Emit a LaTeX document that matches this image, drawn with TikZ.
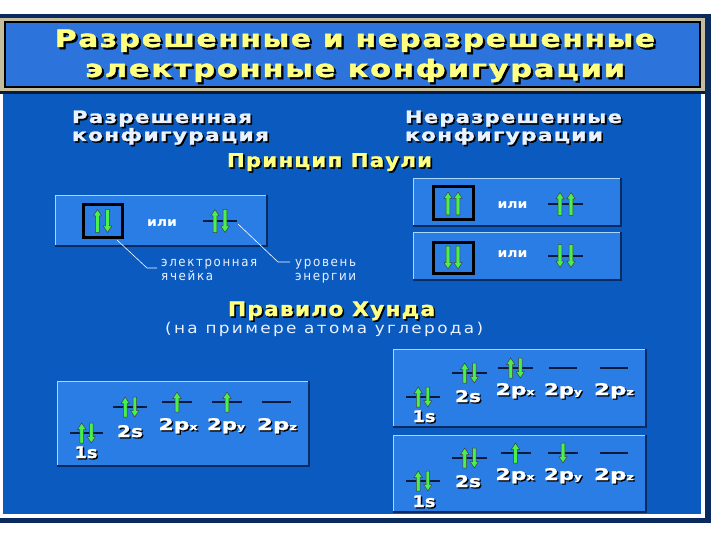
\documentclass[tikz,border=0pt]{standalone}
\usepackage{fontspec}
\usepackage{graphicx}
\setmainfont{DejaVu Sans}
\newfontfamily\hdfont{DejaVu Sans}[LetterSpace=6, FakeBold=1.6]
\newfontfamily\lbfont{DejaVu Sans}[FakeBold=1.2]
\newfontfamily\thinfont{DejaVu Sans}[LetterSpace=14]
\definecolor{bgmain}{HTML}{0A5AC0}
\definecolor{boxfill}{HTML}{2A7DE4}
\definecolor{titlefill}{HTML}{2C74DC}
\definecolor{khaki}{HTML}{C4BE9C}
\definecolor{navy}{HTML}{0B2A5E}
\definecolor{dkline}{HTML}{0A1A3A}
\definecolor{ylw}{HTML}{FFFF80}
\definecolor{lightbev}{HTML}{A8D8FF}
\definecolor{grn}{HTML}{4CF04C}
\definecolor{pale}{HTML}{EAF2FF}
% text with a black drop shadow
\newcommand\shd[3][1.6pt]{\leavevmode\rlap{\kern#1\raisebox{-#1}{\color{black}#3}}{\color{#2}#3}}
\newcommand\fitw[2]{\resizebox{#1}{\height}{#2}}
\newcommand\uparr[3]{\filldraw[arr] ({#1-1.8},{#2+#3/2}) -- ({#1-1.8},{#2-#3/2+6.5}) -- ({#1-4.2},{#2-#3/2+6.5}) -- ({#1},{#2-#3/2}) -- ({#1+4.2},{#2-#3/2+6.5}) -- ({#1+1.8},{#2-#3/2+6.5}) -- ({#1+1.8},{#2+#3/2}) -- cycle;}
\newcommand\dnarr[3]{\filldraw[arr] ({#1-1.8},{#2-#3/2}) -- ({#1-1.8},{#2+#3/2-6.5}) -- ({#1-4.2},{#2+#3/2-6.5}) -- ({#1},{#2+#3/2}) -- ({#1+4.2},{#2+#3/2-6.5}) -- ({#1+1.8},{#2+#3/2-6.5}) -- ({#1+1.8},{#2-#3/2}) -- cycle;}
\newcommand\lvl[3]{\draw[lvlline] ({#1-#3/2},{#2}) -- ({#1+#3/2},{#2});}
\newcommand\lvlud[3]{\lvl{#1}{#2}{#3}\uparr{#1-4.8}{#2}{20}\dnarr{#1+4.8}{#2}{20}}
\newcommand\lvlu[3]{\lvl{#1}{#2}{#3}\uparr{#1}{#2}{20}}
\newcommand\lvld[3]{\lvl{#1}{#2}{#3}\dnarr{#1}{#2}{20}}
\newcommand\bevbox[4]{%
 \fill[boxfill] (#1,#2) rectangle (#3,#4);
 \draw[navy, line width=2.5pt] ({#1},{#4-1}) -- ({#3-1},{#4-1}) -- ({#3-1},{#2});
 \draw[lightbev, line width=1pt] ({#1+0.5},{#4-2}) -- ({#1+0.5},{#2+0.5}) -- ({#3-2},{#2+0.5});}
\newcommand\lab[5]{\node[lbl] (#1) at (#2,#3) {\shd[1.3pt]{white}{\fitw{#4pt}{#5}}};}
\newcommand\ili[3]{\node[ilis] (#1) at (#2,#3) {\fitw{30pt}{или}};}
\begin{document}
\begin{tikzpicture}[x=1pt,y=-1pt,
 txt/.style={inner sep=0pt, outer sep=0pt, anchor=base west},
 lvlline/.style={draw=dkline, line width=2.8pt},
 arr/.style={fill=grn, draw=black!75, line width=0.5pt},
 ann/.style={draw=white, line width=0.6pt},
 cell/.style={draw=black, line width=3pt, inner sep=0pt, fill=boxfill},
 lbl/.style={inner sep=0pt, anchor=base, font=\lbfont\fontsize{16}{16}\selectfont\bfseries},
 ilis/.style={inner sep=0pt, anchor=base, text=white, font=\fontsize{12.5}{12.5}\selectfont\bfseries},
 thin/.style={inner sep=0pt, anchor=base west, text=pale, font=\thinfont\fontsize{13}{13}\selectfont}
]
\useasboundingbox (0,0) rectangle (720,540);
\fill[white] (0,0) rectangle (720,540);
% outer frame
\fill[navy] (0,14) rectangle (711,18);
\fill[navy] (705,14) rectangle (711,523);
\fill[navy] (0,518) rectangle (711,523);
% title area
\fill[khaki] (0,18) rectangle (705,91);
\filldraw[fill=titlefill, draw=black, line width=1.5pt] (5,22) rectangle (700,87);
\fill[dkline] (0,91) rectangle (705,94);
% main panel
\fill[bgmain] (2,94) rectangle (702,515);
\draw[white, line width=2pt] (2,94) -- (2,515) -- (702,515) -- (702,94);

% title text
\node[txt] (t1) at (55,47) {\shd[2.2pt]{ylw}{\fitw{600pt}{\hdfont\bfseries\fontsize{24}{24}\selectfont Разрешенные и неразрешенные}}};
\node[txt] (t2) at (85,77) {\shd[2.2pt]{ylw}{\fitw{540pt}{\hdfont\bfseries\fontsize{24}{24}\selectfont электронные конфигурации}}};

% sub headings
\node[txt] (h1a) at (72,123) {\shd{pale}{\fitw{180pt}{\hdfont\bfseries\fontsize{17}{17}\selectfont Разрешенная}}};
\node[txt] (h1b) at (72,141) {\shd{pale}{\fitw{197pt}{\hdfont\bfseries\fontsize{17}{17}\selectfont конфигурация}}};
\node[txt] (h2a) at (405,123) {\shd{pale}{\fitw{217pt}{\hdfont\bfseries\fontsize{17}{17}\selectfont Неразрешенные}}};
\node[txt] (h2b) at (405,141) {\shd{pale}{\fitw{198pt}{\hdfont\bfseries\fontsize{17}{17}\selectfont конфигурации}}};
\node[txt] (pauli) at (227,167) {\shd{ylw}{\fitw{205pt}{\hdfont\bfseries\fontsize{19}{19}\selectfont Принцип Паули}}};
\node[txt] (hund) at (228,316) {\shd{ylw}{\fitw{207pt}{\hdfont\bfseries\fontsize{20}{20}\selectfont Правило Хунда}}};
\node[thin] (hundsub) at (165,333) {\fitw{318pt}{\fontsize{15}{15}\selectfont (на примере атома углерода)}};

% Pauli: allowed
\bevbox{55}{195}{268}{247}
\node[cell, minimum width=39pt, minimum height=32pt] (cellL) at (102.5,221) {};
\uparr{97.5}{221}{23}\dnarr{107.5}{221}{23}
\ili{iliL}{162}{226}
\lvl{220}{221}{34}\uparr{215}{221}{23}\dnarr{225}{221}{23}
\coordinate (lvlLend) at (238,224);
\coordinate (a1) at (117,240);
\coordinate (a1b) at (147,268);
\coordinate (a1c) at (157,268);
\coordinate (a2b) at (278,262);
\coordinate (a2c) at (290,262);
\draw[ann] (a1) -- (a1b) -- (a1c);
\draw[ann] (lvlLend) -- (a2b) -- (a2c);
\node[thin] (el1) at (161,266) {\fitw{96pt}{электронная}};
\node[thin] (el2) at (161,280) {\fitw{52pt}{ячейка}};
\node[thin] (ur1) at (295,266) {\fitw{61pt}{уровень}};
\node[thin] (ur2) at (295,280) {\fitw{61pt}{энергии}};

% Pauli: forbidden
\bevbox{413}{178}{622}{227}
\node[cell, minimum width=40pt, minimum height=33pt] (cellR1) at (453,203.5) {};
\uparr{448}{203.5}{23}\uparr{458}{203.5}{23}
\ili{iliR1}{512.5}{208}
\lvl{565.5}{204}{35}\uparr{560}{204}{23}\uparr{571}{204}{23}
\bevbox{413}{232}{622}{281}
\node[cell, minimum width=40pt, minimum height=31pt] (cellR2) at (453,257.5) {};
\dnarr{448}{257.5}{23}\dnarr{458}{257.5}{23}
\ili{iliR2}{512.5}{258}
\lvl{565.5}{256}{35}\dnarr{560}{256}{23}\dnarr{571}{256}{23}

% Hund: allowed
\bevbox{57}{381}{310}{467}
\lvlud{86.5}{433}{33}
\lvlud{130}{407}{34}
\lvlu{177}{402}{30}
\lvlu{227}{402}{30}
\lvl{276}{402}{29}
\lab{L1s}{86}{458}{23}{1s}
\lab{L2s}{130}{437}{26}{2s}
\lab{L2px}{178}{430}{39}{2p{\small x}}
\lab{L2py}{226}{430}{38}{2p{\small y}}
\lab{L2pz}{277}{430}{40}{2p{\small z}}

% Hund: forbidden 1
\bevbox{393}{349}{647}{428}
\lvlud{423}{397}{34}
\lvlud{469.5}{373}{35}
\lvlud{515.5}{368}{35}
\lvl{563}{368}{28}
\lvl{613.5}{368}{28}
\lab{R1s}{424}{422}{23}{1s}
\lab{R2s}{468}{402}{26}{2s}
\lab{R2px}{515}{395}{39}{2p{\small x}}
\lab{R2py}{563}{395}{38}{2p{\small y}}
\lab{R2pz}{614}{395}{40}{2p{\small z}}

% Hund: forbidden 2
\bevbox{393}{435}{647}{513}
\lvlud{423}{481}{34}
\lvlud{469.5}{458}{35}
\lvlu{515.5}{453}{30}
\lvld{563}{453}{30}
\lvl{613.5}{453}{28}
\lab{S1s}{424}{507}{23}{1s}
\lab{S2s}{468}{487}{26}{2s}
\lab{S2px}{515}{480}{39}{2p{\small x}}
\lab{S2py}{563}{480}{38}{2p{\small y}}
\lab{S2pz}{614}{480}{40}{2p{\small z}}
\end{tikzpicture}
\end{document}
